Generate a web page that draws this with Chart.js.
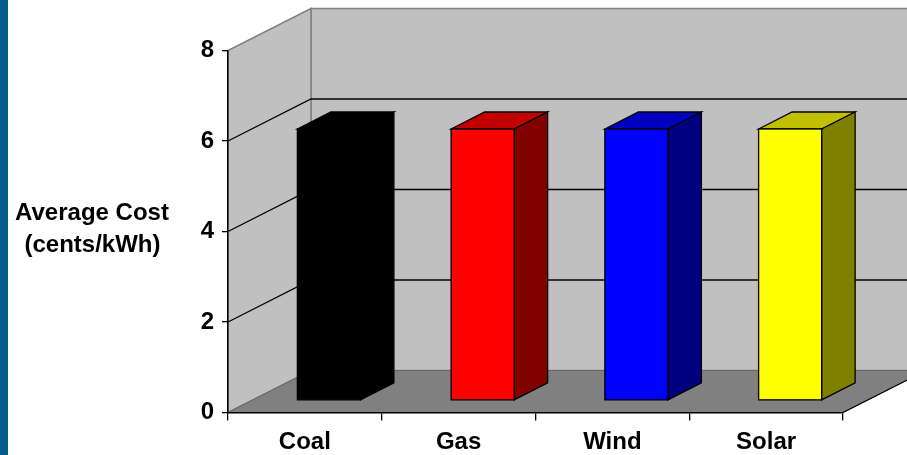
<!DOCTYPE html>
<html>
<head>
<meta charset="utf-8">
<title>Average Cost</title>
<script src="https://cdn.jsdelivr.net/npm/chart.js@4"></script>
<style>
    html, body { margin: 0; padding: 0; background: #fff; overflow: hidden; }
    #strip { position: absolute; left: 0; top: 0; width: 8px; height: 455px; background: #005a8c; }
    #wrap { position: absolute; left: 0; top: 0; width: 907px; height: 455px; }
</style>
</head>
<body>
<div id="wrap"><canvas id="costChart" width="907" height="455"></canvas></div>
<div id="strip"></div>
<script>
const categories = ['Coal', 'Gas', 'Wind', 'Solar'];
const costs = [6, 6, 6, 6];
const yTicks = [0, 2, 4, 6, 8];
const axisTitle = ['Average Cost', '(cents/kWh)'];

const frontColors = ['#000000', '#ff0000', '#0000ff', '#ffff00'];
const topColors = ['#000000', '#c00000', '#0000c0', '#c0c000'];
const sideColors = ['#000000', '#800000', '#000080', '#808000'];

// 3d look: depth of the box, and where the bars sit inside it
const depth = { x: 83, y: -42 };
const barShift = { x: 24, y: -12 };
const barDepth = { x: 33.5, y: -17 };

function poly(ctx, points, fill, stroke, width) {
    ctx.beginPath();
    points.forEach((p, i) => i ? ctx.lineTo(p[0], p[1]) : ctx.moveTo(p[0], p[1]));
    ctx.closePath();
    if (fill) { ctx.fillStyle = fill; ctx.fill(); }
    if (stroke) { ctx.strokeStyle = stroke; ctx.lineWidth = width; ctx.stroke(); }
}

const box3d = {
    id: 'box3d',
    beforeDraw(chart) {
        const { ctx, chartArea: a, scales } = chart;
        const dx = depth.x, dy = depth.y;
        ctx.save();
        // back wall, left wall, floor
        poly(ctx, [[a.left + dx, a.top + dy], [a.right + dx, a.top + dy], [a.right + dx, a.bottom + dy], [a.left + dx, a.bottom + dy]], '#c0c0c0', '#808080', 1.5);
        poly(ctx, [[a.left, a.bottom], [a.left + dx, a.bottom + dy], [a.left + dx, a.top + dy], [a.left, a.top]], '#c0c0c0', '#808080', 1.5);
        poly(ctx, [[a.left, a.bottom], [a.right, a.bottom], [a.right + dx, a.bottom + dy], [a.left + dx, a.bottom + dy]], '#808080', '#666666', 1);

        // gridlines go along the left wall then across the back
        ctx.strokeStyle = '#000';
        ctx.lineWidth = 1.3;
        yTicks.slice(1, -1).forEach(v => {
            const y = scales.y.getPixelForValue(v);
            ctx.beginPath();
            ctx.moveTo(a.left, y);
            ctx.lineTo(a.left + dx, y + dy);
            ctx.lineTo(a.right + dx, y + dy);
            ctx.stroke();
        });

        // front right edge of the floor
        ctx.beginPath();
        ctx.moveTo(a.right, a.bottom);
        ctx.lineTo(a.right + dx, a.bottom + dy);
        ctx.stroke();

        // axis title
        ctx.fillStyle = '#000';
        ctx.font = 'bold 24px "Liberation Sans", Arial, sans-serif';
        ctx.textAlign = 'center';
        ctx.textBaseline = 'middle';
        ctx.fillText(axisTitle[0], 92, 213);
        ctx.fillText(axisTitle[1], 92.5, 245);
        ctx.restore();
    },
    beforeDatasetDraw(chart) {
        const ctx = chart.ctx;
        const bars = chart.getDatasetMeta(0).data;
        ctx.save();
        ctx.translate(barShift.x, barShift.y);
        ctx.lineJoin = 'miter';
        bars.forEach((bar, i) => {
            const b = bar.getProps(['x', 'y', 'base', 'width'], true);
            const l = b.x - b.width / 2, r = b.x + b.width / 2;
            const ex = barDepth.x, ey = barDepth.y;
            poly(ctx, [[l, b.y], [r, b.y], [r + ex, b.y + ey], [l + ex, b.y + ey]], topColors[i], '#000', 1.3);
            poly(ctx, [[r, b.y], [r + ex, b.y + ey], [r + ex, b.base + ey], [r, b.base]], sideColors[i], '#000', 1.3);
        });
    },
    afterDatasetDraw(chart) {
        const ctx = chart.ctx;
        // outline of the front faces, the native border leaves a seam on the black bar
        chart.getDatasetMeta(0).data.forEach(bar => {
            const b = bar.getProps(['x', 'y', 'base', 'width'], true);
            ctx.strokeStyle = '#000';
            ctx.lineWidth = 1.3;
            ctx.strokeRect(b.x - b.width / 2, b.y, b.width, b.base - b.y);
        });
        ctx.restore();
    }
};

new Chart(document.getElementById('costChart').getContext('2d'), {
    type: 'bar',
    data: {
        labels: categories,
        datasets: [{
            label: 'Average Cost (cents/kWh)',
            data: costs,
            backgroundColor: frontColors,
            borderWidth: 0,
            barPercentage: 0.41,
            categoryPercentage: 1,
            clip: false
        }]
    },
    options: {
        responsive: false,
        animation: false,
        layout: { padding: { left: 0, top: 50.5, right: 64, bottom: 0 } },
        plugins: { legend: { display: false }, tooltip: { enabled: false } },
        scales: {
            x: {
                afterFit(scale) { scale.height = 42.5; },
                border: { color: '#000', width: 1.5 },
                grid: { drawOnChartArea: false, color: '#000', tickLength: 8, lineWidth: 1.3 },
                ticks: { color: '#000', padding: 7, maxRotation: 0, font: { family: '"Liberation Sans", Arial, sans-serif', size: 24, weight: 'bold' } }
            },
            y: {
                min: 0,
                max: 8,
                afterFit(scale) { scale.width = 228; },
                afterBuildTicks(scale) { scale.ticks = yTicks.map(v => ({ value: v })); },
                border: { color: '#000', width: 1.5 },
                grid: { drawOnChartArea: false, color: '#000', tickLength: 6, lineWidth: 1.3 },
                ticks: { color: '#000', padding: 8, font: { family: '"Liberation Sans", Arial, sans-serif', size: 24, weight: 'bold' } }
            }
        }
    },
    plugins: [box3d]
});
</script>
</body>
</html>
